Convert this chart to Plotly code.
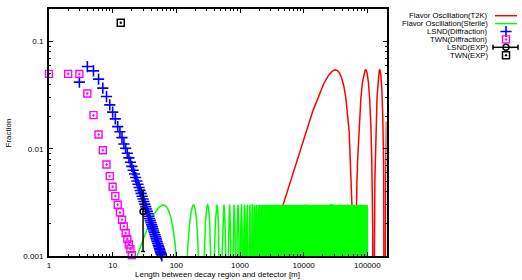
import numpy as np
import plotly.graph_objects as go

W, H = 522, 280

# ---------------- data ----------------
twn_diff_x = list(range(1, 21))
twn_diff_y = [0.050, 0.050, 0.0499, 0.0328, 0.0206, 0.0136, 0.0097, 0.00714, 0.00556, 0.00442,
              0.00362, 0.00301, 0.00255, 0.00218, 0.00189, 0.00164, 0.00144, 0.00128, 0.00116, 0.00102]

lsnd_diff_x = list(range(3, 60))
lsnd_diff_y = [0.0419, 0.0585, 0.0533, 0.0446, 0.0368, 0.0307, 0.0257, 0.0220, 0.0190, 0.0161,
               0.0144, 0.0127, 0.0111, 0.0101,
               0.00909, 0.00823, 0.00750, 0.00686, 0.00631, 0.00582, 0.00539, 0.00501, 0.00467,
               0.00436, 0.00408, 0.00384, 0.00361, 0.00340, 0.00322, 0.00305, 0.00289, 0.00274,
               0.00261,
               0.00248, 0.00235, 0.00224, 0.00214, 0.00204, 0.00195, 0.00187, 0.00179, 0.00171,
               0.00165, 0.00158, 0.00152, 0.00146, 0.00141, 0.00136, 0.00131, 0.00126, 0.00122,
               0.00118, 0.00114, 0.00110, 0.00107, 0.00104, 0.00100]

lsnd_exp_x = [30]
lsnd_exp_y = [0.0026]
lsnd_exp_err = [0.0015]

twn_exp_x = [13.4]
twn_exp_y = [0.15]

# oscillation curves: amplitude and distance of first maximum
t2k_amp, t2k_first_peak, t2k_lmax = 0.0545, 31300.0, 2.0e5
sterile_amp, sterile_first_peak, sterile_lmax = 0.003, 62.0, 1.0e5

x_tickvals = [1, 10, 100, 1000, 10000, 100000]
x_ticktext = ["1", "10", "100", "1000", "10000", "100000"]
y_tickvals = [0.001, 0.01, 0.1]
y_ticktext = ["0.001", "0.01", "0.1"]

legend_names = ["Flavor Oscillation(T2K)", "Flavor Oscillation(Sterile)", "LSND(Diffraction)",
                "TWN(Diffraction)", "LSND(EXP)", "TWN(EXP)"]

RED, GREEN, BLUE, MAG = "#ff0000", "#00ff00", "#0000ff", "#ff00ff"
FONT = "Liberation Sans"


def osc(L, amp, first_peak):
    v = amp * np.sin(0.5 * np.pi * L / first_peak) ** 2
    return np.maximum(v, 1e-9)


L_t2k = np.geomspace(500, t2k_lmax, 20000)
L_st = np.geomspace(5, sterile_lmax, 60000)

fig = go.Figure()
fig.add_trace(go.Scatter(x=L_t2k, y=osc(L_t2k, t2k_amp, t2k_first_peak), mode="lines",
                         line=dict(color=RED, width=1.5)))
fig.add_trace(go.Scatter(x=L_st, y=osc(L_st, sterile_amp, sterile_first_peak), mode="lines",
                         line=dict(color=GREEN, width=1.5)))
fig.add_trace(go.Scatter(x=lsnd_diff_x, y=lsnd_diff_y, mode="markers", cliponaxis=False,
                         marker=dict(symbol="cross-thin", size=8, color=BLUE,
                                     line=dict(color=BLUE, width=1.6))))
fig.add_trace(go.Scatter(x=twn_diff_x, y=twn_diff_y, mode="markers", cliponaxis=False,
                         marker=dict(symbol="square-open-dot", size=7, color=MAG,
                                     line=dict(color=MAG, width=1.4))))
fig.add_trace(go.Scatter(x=lsnd_exp_x, y=lsnd_exp_y, mode="markers", cliponaxis=False,
                         error_y=dict(type="data", array=lsnd_exp_err, color="black",
                                      thickness=1.5, width=2),
                         marker=dict(symbol="circle-open", size=6, color="black",
                                     line=dict(color="black", width=1.5))))
fig.add_trace(go.Scatter(x=twn_exp_x, y=twn_exp_y, mode="markers", cliponaxis=False,
                         marker=dict(symbol="square-open-dot", size=7, color="black",
                                     line=dict(color="black", width=1.5))))

# ---------------- legend (drawn on an overlay in pixel coordinates) ----------------
leg_y0, leg_dy = 15.7, 7.9
leg_ys = [leg_y0 + leg_dy * i for i in range(len(legend_names))]
sx0, sx1, sxc = 495, 517, 506
ov = dict(xaxis="x2", yaxis="y2", showlegend=False, hoverinfo="skip", cliponaxis=False)
fig.add_trace(go.Scatter(x=[sx0, sx1], y=[leg_ys[0]] * 2, mode="lines",
                         line=dict(color=RED, width=1.5), **ov))
fig.add_trace(go.Scatter(x=[sx0, sx1], y=[leg_ys[1]] * 2, mode="lines",
                         line=dict(color=GREEN, width=1.5), **ov))
fig.add_trace(go.Scatter(x=[sxc], y=[leg_ys[2]], mode="markers",
                         marker=dict(symbol="cross-thin", size=8, color=BLUE,
                                     line=dict(color=BLUE, width=1.6)), **ov))
fig.add_trace(go.Scatter(x=[sxc], y=[leg_ys[3]], mode="markers",
                         marker=dict(symbol="square-open-dot", size=7, color=MAG,
                                     line=dict(color=MAG, width=1.4)), **ov))
yl = leg_ys[4]
fig.add_trace(go.Scatter(x=[493, 518, None, 493, 493, None, 518, 518],
                         y=[yl, yl, None, yl - 2.5, yl + 2.5, None, yl - 2.5, yl + 2.5],
                         mode="lines", line=dict(color="black", width=1.5), **ov))
fig.add_trace(go.Scatter(x=[sxc], y=[yl], mode="markers",
                         marker=dict(symbol="circle-open", size=6, color="black",
                                     line=dict(color="black", width=1.5)), **ov))
fig.add_trace(go.Scatter(x=[sxc], y=[leg_ys[5]], mode="markers",
                         marker=dict(symbol="square-open-dot", size=7, color="black",
                                     line=dict(color="black", width=1.5)), **ov))

annotations = []
for name, yc in zip(legend_names, leg_ys):
    annotations.append(dict(text=name, xref="paper", yref="paper", x=489.5 / W, y=1 - yc / H,
                            xanchor="right", yanchor="middle", showarrow=False,
                            font=dict(family=FONT, size=7.7, color="black")))
annotations.append(dict(text="Fraction", xref="paper", yref="paper", x=7.5 / W, y=1 - 133 / H,
                        textangle=-90, xanchor="center", yanchor="middle", showarrow=False,
                        font=dict(family=FONT, size=8, color="black")))
annotations.append(dict(text="Length between decay region and detector [m]", xref="paper",
                        yref="paper", x=217.5 / W, y=1 - 274.5 / H, xanchor="center",
                        yanchor="middle", showarrow=False,
                        font=dict(family=FONT, size=8, color="black")))

x_left, x_right, y_top, y_bot = 49, 386.5, 9.3, 256

fig.update_layout(
    width=W, height=H, margin=dict(l=0, r=0, t=0, b=0),
    paper_bgcolor="white", plot_bgcolor="rgba(0,0,0,0)",
    showlegend=False, annotations=annotations,
    font=dict(family=FONT, size=8, color="black"),
    xaxis=dict(type="log", domain=[x_left / W, x_right / W],
               range=[0, np.log10(2.0e5)], tickvals=x_tickvals, ticktext=x_ticktext,
               showgrid=False, zeroline=False, showline=True, linecolor="black", linewidth=2,
               mirror="allticks", ticks="inside", ticklen=4, tickcolor="black", tickwidth=1,
               minor=dict(ticks="inside", ticklen=2, tickcolor="black", dtick="D1",
                          showgrid=False),
               tickfont=dict(family=FONT, size=8, color="black"), automargin=False,
               anchor="y"),
    yaxis=dict(type="log", domain=[1 - y_bot / H, 1 - y_top / H],
               range=[-3, np.log10(0.2)], tickvals=y_tickvals, ticktext=y_ticktext,
               showgrid=False, zeroline=False, showline=True, linecolor="black", linewidth=2,
               mirror="allticks", ticks="inside", ticklen=4, tickcolor="black", tickwidth=1,
               minor=dict(ticks="inside", ticklen=2, tickcolor="black", dtick="D1",
                          showgrid=False),
               tickfont=dict(family=FONT, size=8, color="black"), automargin=False,
               ticklabelstandoff=2, anchor="x"),
    xaxis2=dict(domain=[0, 1], range=[0, W], visible=False, anchor="y2", fixedrange=True),
    yaxis2=dict(domain=[0, 1], range=[H, 0], visible=False, anchor="x2", fixedrange=True),
)

fig.write_html("out.html", config={"displayModeBar": False, "staticPlot": True},
               post_script="document.body.style.margin='0';document.body.style.overflow='hidden';")
